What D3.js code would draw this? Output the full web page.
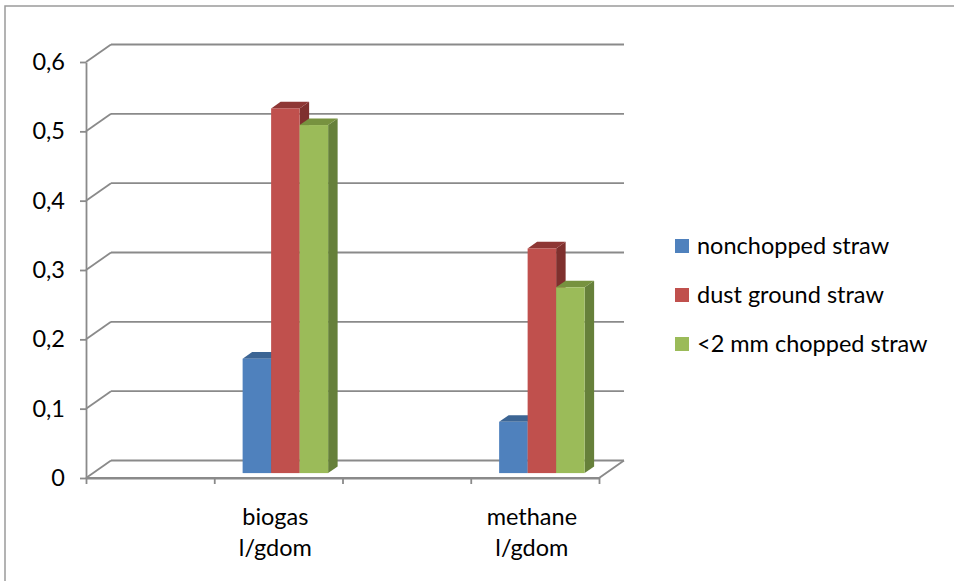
<!DOCTYPE html>
<html>
<head>
<meta charset="utf-8">
<script src="https://cdn.jsdelivr.net/npm/d3@7/dist/d3.min.js"></script>
<style>
  html, body { margin: 0; padding: 0; background: #fff; }
  svg { display: block; }
  text { font-family: Lato, "Open Sans", sans-serif; fill: #000; }
</style>
</head>
<body>
<svg id="chart" width="954" height="581"></svg>
<script>
// Category slots along the floor (empty slots stay blank, as in the layout)
const categories = ["", "biogas l/gdom", "", "methane l/gdom"];
const seriesNames = ["nonchopped straw", "dust ground straw", "<2 mm chopped straw"];
const nonchopped = [null, 0.165, null, 0.074];
const dustGround = [null, 0.526, null, 0.324];
const chopped2mm = [null, 0.502, null, 0.268];
const yTicks = [0, 0.1, 0.2, 0.3, 0.4, 0.5, 0.6];

const seriesValues = [nonchopped, dustGround, chopped2mm];
const frontColors = ["#4F81BD", "#C0504D", "#9BBB59"];
const topColors   = ["#3C6594", "#8E3735", "#77923F"];
const sideColors  = ["#37598A", "#7F302E", "#66803A"];

const svg = d3.select("#chart");
const W = 954, H = 581;
const fontSize = 23.5;

// outer chart border (continues past the right and bottom edges)
svg.append("rect").attr("x", 5).attr("y", 6).attr("width", W + 10).attr("height", H + 10)
  .attr("fill", "#fff").attr("stroke", "#9a9a9a").attr("stroke-width", 1.5);

// front plane geometry and the oblique depth offset of the back wall
const left = 86, right = 599;
const depthX = 25, depthY = -17.5;
const y = d3.scaleLinear().domain([0, 0.6]).range([478, 62]);
const x = d3.scaleBand().domain(d3.range(categories.length)).range([left, right]).padding(0);
const inner = d3.scaleBand().domain(d3.range(seriesNames.length))
  .range([0, x.bandwidth()]).paddingInner(0).paddingOuter(0.75);

// bar depth, as fractions of the floor depth
const barFront = 0.28, barBack = 0.66;

const gridColor = "#8a8a8a";
const grid = svg.append("g").attr("stroke", gridColor).attr("stroke-width", 1.8).attr("fill", "none");

// back wall gridlines and side wall diagonals
yTicks.forEach(t => {
  const yf = y(t), yb = y(t) + depthY;
  grid.append("line").attr("x1", left + depthX).attr("x2", right + depthX)
    .attr("y1", yb).attr("y2", yb);
  grid.append("line").attr("x1", left).attr("y1", yf)
    .attr("x2", left + depthX).attr("y2", yb);
});

// floor outline
grid.append("path").attr("d", d3.line()([
  [left, y(0)], [right, y(0)], [right + depthX, y(0) + depthY]
]));

// 3D bars, drawn left to right so each neighbour covers the previous side face
const bars = svg.append("g");
categories.forEach((c, ci) => {
  seriesValues.forEach((vals, si) => {
    const v = vals[ci];
    if (v == null) return;
    const ox = barFront * depthX, oy = barFront * depthY;
    const dx = (barBack - barFront) * depthX, dy = (barBack - barFront) * depthY;
    const x0 = x(ci) + inner(si) + ox, x1 = x0 + inner.bandwidth();
    const yTop = y(v) + oy, yBot = y(0) + oy;
    const g = bars.append("g");
    // side face
    g.append("path").attr("fill", sideColors[si]).attr("d", d3.line()([
      [x1, yBot], [x1 + dx, yBot + dy], [x1 + dx, yTop + dy], [x1, yTop]
    ]) + "Z");
    // top face
    g.append("path").attr("fill", topColors[si]).attr("d", d3.line()([
      [x0, yTop], [x0 + dx, yTop + dy], [x1 + dx, yTop + dy], [x1, yTop]
    ]) + "Z");
    // front face
    g.append("rect").attr("x", x0).attr("y", yTop)
      .attr("width", x1 - x0).attr("height", yBot - yTop)
      .attr("fill", frontColors[si]);
  });
});

// value axis on the front plane
const fmt = d3.formatLocale({ decimal: ",", thousands: ".", grouping: [3], currency: ["", ""] }).format("~g");
const yAxis = svg.append("g").attr("transform", `translate(${left},0)`)
  .call(d3.axisLeft(y).tickValues(yTicks).tickFormat(fmt).tickSizeInner(6).tickSizeOuter(0).tickPadding(15));
yAxis.selectAll("path, line").attr("stroke", gridColor).attr("stroke-width", 1.8);
yAxis.selectAll("text").attr("font-size", fontSize).attr("font-family", "Lato, sans-serif").attr("fill", "#000");

// category axis: front floor edge with ticks at the slot boundaries
const slotEdges = d3.scaleLinear().domain([0, categories.length]).range([left, right]);
const xAxis = svg.append("g").attr("transform", `translate(0,${y(0)})`)
  .call(d3.axisBottom(slotEdges).tickValues(d3.range(categories.length + 1))
    .tickFormat("").tickSizeInner(6).tickSizeOuter(0));
xAxis.selectAll("path, line").attr("stroke", gridColor).attr("stroke-width", 1.8);

// category labels, two lines each
categories.forEach((c, ci) => {
  if (!c) return;
  const words = c.split(" ");
  const cx = x(ci) + x.bandwidth() / 2 - 3;
  const t = svg.append("text").attr("text-anchor", "middle").attr("font-size", fontSize)
    .attr("x", cx).attr("y", 525);
  words.forEach((w, i) => t.append("tspan").attr("x", cx)
    .attr("dy", i === 0 ? 0 : 31).text(w));
});

// legend
const legend = svg.append("g").attr("transform", "translate(675,246)");
seriesNames.forEach((name, i) => {
  const row = legend.append("g").attr("transform", `translate(0,${i * 49})`);
  row.append("rect").attr("x", 0).attr("y", -7).attr("width", 14).attr("height", 14)
    .attr("fill", frontColors[i]);
  row.append("text").attr("x", 22).attr("y", 0).attr("dy", "0.36em")
    .attr("font-size", fontSize).text(name);
});
</script>
</body>
</html>
